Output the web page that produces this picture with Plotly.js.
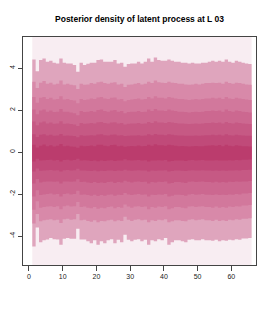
<!DOCTYPE html>
<html><head><meta charset="utf-8">
<script src="https://cdn.plot.ly/plotly-3.0.1.min.js"></script>
<style>html,body{margin:0;padding:0;background:#fff}#chart{width:275px;height:314px}</style>
</head><body><div id="chart"></div>
<script>
const titleText = 'Posterior density of latent process at L 03';
const cols = [1,2,3,4,5,6,7,8,9,10,11,12,13,14,15,16,17,18,19,20,21,22,23,24,25,26,27,28,29,30,31,32,33,34,35,36,37,38,39,40,41,42,43,44,45,46,47,48,49,50,51,52,53,54,55,56,57,58,59,60,61,62,63,64,65];
const xTickVals = [0,10,20,30,40,50,60];
const xTickText = ['0','10','20','30','40','50','60'];
const yTickVals = [-4,-2,0,2,4];
const yTickText = ['-4','-2','0','2','4'];
const bgLow = -5.4, bgHigh = 5.5;

const up1 = [4.41,3.85,4.38,4.45,4.30,4.35,4.25,4.22,4.45,4.25, 4.22,4.22,4.14,3.82,4.25,4.14,4.20,4.25,4.25,4.38, 4.41,4.30,4.30,4.30,4.38,4.22,4.25,4.06,4.19,4.22, 4.22,4.30,4.22,4.30,4.45,4.30,4.50,4.38,4.35,4.35, 4.41,4.35,4.30,4.30,4.25,4.25,4.22,4.25,4.22,4.22, 4.25,4.25,4.30,4.35,4.30,4.35,4.30,4.41,4.30,4.25, 4.35,4.30,4.25,4.22,4.19];
const lo1 = [-4.50,-3.60,-4.30,-4.20,-4.17,-4.10,-4.15,-4.17,-4.41,-4.13, -4.10,-4.13,-4.13,-3.65,-4.17,-4.17,-4.25,-4.34,-4.20,-4.41, -4.25,-4.34,-4.20,-4.15,-4.34,-4.18,-4.30,-3.94,-4.18,-4.25, -4.18,-4.15,-4.25,-4.18,-4.41,-4.20,-4.25,-4.15,-4.20,-4.10, -4.41,-4.30,-4.20,-4.20,-4.25,-4.30,-4.18,-4.15,-4.20,-4.20, -4.15,-4.20,-4.20,-4.22,-4.18,-4.25,-4.20,-4.22,-4.18,-4.20, -4.15,-4.18,-4.12,-4.12,-4.10];
const up2 = [3.35,3.05,3.30,3.38,3.25,3.30,3.22,3.25,3.40,3.22, 3.25,3.20,3.18,3.00,3.25,3.20,3.22,3.28,3.25,3.32, 3.35,3.28,3.25,3.30,3.32,3.22,3.25,3.10,3.20,3.22, 3.25,3.28,3.22,3.25,3.35,3.28,3.40,3.32,3.30,3.28, 3.35,3.30,3.28,3.25,3.25,3.22,3.20,3.22,3.25,3.22, 3.25,3.28,3.28,3.30,3.28,3.30,3.25,3.35,3.28,3.25, 3.30,3.28,3.25,3.22,3.20];
const lo2 = [-3.40,-2.95,-3.30,-3.25,-3.22,-3.20,-3.25,-3.22,-3.38,-3.20, -3.18,-3.22,-3.20,-2.95,-3.25,-3.22,-3.28,-3.32,-3.25,-3.35, -3.28,-3.30,-3.25,-3.22,-3.30,-3.25,-3.28,-3.08,-3.22,-3.28, -3.22,-3.20,-3.25,-3.22,-3.35,-3.25,-3.28,-3.22,-3.25,-3.20, -3.35,-3.30,-3.25,-3.25,-3.28,-3.30,-3.22,-3.20,-3.25,-3.22, -3.20,-3.25,-3.25,-3.28,-3.22,-3.28,-3.25,-3.28,-3.22,-3.25, -3.20,-3.22,-3.18,-3.18,-3.15];
const up3 = [2.62,2.35,2.58,2.62,2.52,2.58,2.50,2.52,2.65,2.50, 2.52,2.48,2.45,2.32,2.52,2.48,2.50,2.55,2.52,2.60, 2.62,2.55,2.52,2.58,2.60,2.50,2.52,2.42,2.48,2.50, 2.52,2.55,2.50,2.52,2.62,2.55,2.65,2.58,2.58,2.55, 2.62,2.58,2.55,2.52,2.52,2.50,2.48,2.50,2.52,2.50, 2.52,2.55,2.55,2.58,2.55,2.58,2.52,2.62,2.55,2.52, 2.58,2.55,2.52,2.50,2.48];
const lo3 = [-2.75,-2.35,-2.65,-2.62,-2.60,-2.58,-2.62,-2.58,-2.72,-2.58, -2.55,-2.60,-2.58,-2.38,-2.62,-2.60,-2.65,-2.68,-2.62,-2.70, -2.65,-2.68,-2.62,-2.60,-2.68,-2.62,-2.65,-2.50,-2.60,-2.65, -2.60,-2.58,-2.62,-2.60,-2.72,-2.62,-2.65,-2.60,-2.62,-2.58, -2.72,-2.68,-2.62,-2.62,-2.65,-2.68,-2.60,-2.58,-2.62,-2.60, -2.58,-2.62,-2.62,-2.65,-2.60,-2.65,-2.62,-2.65,-2.60,-2.62, -2.58,-2.60,-2.55,-2.55,-2.52];
const up4 = [2.02,1.80,1.98,2.02,1.92,1.98,1.90,1.92,2.05,1.92, 1.92,1.88,1.85,1.75,1.95,1.90,1.92,1.95,1.92,2.00, 2.02,1.95,1.92,1.98,2.00,1.92,1.95,1.85,1.90,1.92, 1.92,1.95,1.90,1.92,2.02,1.95,2.05,1.98,1.98,1.95, 2.02,1.98,1.95,1.92,1.92,1.90,1.88,1.90,1.92,1.90, 1.92,1.95,1.95,1.98,1.95,1.98,1.92,2.02,1.95,1.92, 1.98,1.95,1.92,1.90,1.88];
const lo4 = [-2.12,-1.82,-2.05,-2.02,-2.00,-1.98,-2.02,-2.00,-2.12,-2.00, -1.98,-2.02,-2.00,-1.85,-2.03,-2.02,-2.05,-2.08,-2.03,-2.10, -2.05,-2.08,-2.03,-2.02,-2.08,-2.03,-2.05,-1.95,-2.02,-2.05, -2.02,-2.00,-2.03,-2.02,-2.12,-2.03,-2.05,-2.02,-2.03,-2.00, -2.12,-2.08,-2.03,-2.03,-2.05,-2.08,-2.02,-2.00,-2.03,-2.02, -2.00,-2.03,-2.03,-2.05,-2.02,-2.05,-2.03,-2.05,-2.02,-2.03, -2.00,-2.02,-1.98,-1.98,-1.95];
const up5 = [1.45,1.28,1.40,1.45,1.36,1.40,1.35,1.36,1.46,1.35, 1.36,1.33,1.31,1.24,1.38,1.35,1.36,1.38,1.36,1.42, 1.43,1.38,1.36,1.40,1.42,1.36,1.38,1.31,1.35,1.36, 1.36,1.38,1.35,1.36,1.43,1.38,1.46,1.40,1.40,1.38, 1.43,1.40,1.38,1.36,1.36,1.35,1.33,1.35,1.36,1.35, 1.36,1.38,1.38,1.40,1.38,1.40,1.36,1.43,1.38,1.36, 1.40,1.38,1.36,1.35,1.33];
const lo5 = [-1.50,-1.28,-1.45,-1.42,-1.41,-1.40,-1.42,-1.41,-1.50,-1.41, -1.40,-1.42,-1.41,-1.30,-1.43,-1.42,-1.45,-1.47,-1.43,-1.48, -1.45,-1.47,-1.43,-1.42,-1.47,-1.43,-1.45,-1.37,-1.42,-1.45, -1.42,-1.41,-1.43,-1.42,-1.50,-1.43,-1.45,-1.42,-1.43,-1.41, -1.50,-1.47,-1.43,-1.43,-1.45,-1.47,-1.42,-1.41,-1.43,-1.42, -1.41,-1.43,-1.43,-1.45,-1.42,-1.45,-1.43,-1.45,-1.42,-1.43, -1.41,-1.42,-1.40,-1.40,-1.38];
const up6 = [0.84,0.72,0.82,0.85,0.79,0.82,0.78,0.79,0.86,0.78, 0.79,0.77,0.76,0.70,0.80,0.78,0.79,0.80,0.79,0.83, 0.84,0.80,0.79,0.82,0.83,0.79,0.80,0.76,0.78,0.79, 0.79,0.80,0.78,0.79,0.84,0.80,0.86,0.82,0.82,0.80, 0.84,0.82,0.80,0.79,0.79,0.78,0.77,0.78,0.79,0.78, 0.79,0.80,0.80,0.82,0.80,0.82,0.79,0.84,0.80,0.79, 0.82,0.80,0.79,0.78,0.77];
const lo6 = [-0.93,-0.78,-0.89,-0.88,-0.87,-0.86,-0.88,-0.87,-0.93,-0.87, -0.86,-0.88,-0.87,-0.80,-0.88,-0.88,-0.89,-0.91,-0.88,-0.92, -0.89,-0.91,-0.88,-0.88,-0.91,-0.88,-0.89,-0.84,-0.88,-0.89, -0.88,-0.87,-0.88,-0.88,-0.93,-0.88,-0.89,-0.88,-0.88,-0.87, -0.93,-0.91,-0.88,-0.88,-0.89,-0.91,-0.88,-0.87,-0.88,-0.88, -0.87,-0.88,-0.88,-0.89,-0.88,-0.89,-0.88,-0.89,-0.88,-0.88, -0.87,-0.88,-0.86,-0.86,-0.85];
const up7 = [0.34,0.22,0.30,0.36,0.28,0.32,0.26,0.30,0.38,0.28, 0.30,0.26,0.25,0.20,0.30,0.27,0.29,0.31,0.28,0.34, 0.35,0.30,0.28,0.33,0.34,0.28,0.30,0.25,0.27,0.29, 0.28,0.31,0.27,0.29,0.35,0.30,0.37,0.32,0.32,0.30, 0.35,0.32,0.30,0.28,0.29,0.27,0.26,0.28,0.29,0.27, 0.28,0.30,0.31,0.32,0.30,0.33,0.28,0.35,0.30,0.28, 0.32,0.30,0.28,0.27,0.26];
const lo7 = [-0.45,-0.32,-0.40,-0.39,-0.38,-0.37,-0.40,-0.38,-0.45,-0.38, -0.37,-0.40,-0.38,-0.32,-0.40,-0.39,-0.41,-0.43,-0.40,-0.44, -0.41,-0.43,-0.40,-0.39,-0.43,-0.40,-0.41,-0.35,-0.39,-0.41, -0.39,-0.38,-0.40,-0.39,-0.45,-0.40,-0.41,-0.39,-0.40,-0.38, -0.45,-0.43,-0.40,-0.40,-0.41,-0.43,-0.39,-0.38,-0.40,-0.39, -0.38,-0.40,-0.40,-0.41,-0.39,-0.41,-0.40,-0.41,-0.39,-0.40, -0.38,-0.39,-0.37,-0.37,-0.36];

const bgColor = '#f8edf2';
const bandColors = ['#dfa5bd','#d889a9','#d2789c','#cc6890','#c65984','#c04a79','#bb3c6d'];
const bands = [[lo1,up1],[lo2,up2],[lo3,up3],[lo4,up4],[lo5,up5],[lo6,up6],[lo7,up7]];

// each column j covers [j, j+1]; step lines ('hv') need a closing point at the right edge
const xs = cols.concat([cols[cols.length-1] + 1]);
function stepVals(arr){ return arr.concat([arr[arr.length-1]]); }
const traces = [];
function addBand(lo, hi, color){
  traces.push({type:'scatter', mode:'lines', x: xs, y: stepVals(lo), line:{shape:'hv', width:0, color:color},
    hoverinfo:'skip', showlegend:false});
  traces.push({type:'scatter', mode:'lines', x: xs, y: stepVals(hi), line:{shape:'hv', width:0, color:color},
    fill:'tonexty', fillcolor:color, hoverinfo:'skip', showlegend:false});
}
addBand(cols.map(()=>bgLow), cols.map(()=>bgHigh), bgColor);
bands.forEach((b,k)=>addBand(b[0], b[1], bandColors[k]));

const axisCommon = {showgrid:false, zeroline:false, showline:true, mirror:true,
  linecolor:'#444', linewidth:1, ticks:'outside', tickcolor:'#444', tickwidth:1,
  tickfont:{family:'Liberation Sans, Arial, sans-serif', size:7, color:'#222'}};
const layout = {
  width:275, height:314, margin:{l:23, r:19, t:37, b:49},
  paper_bgcolor:'#fff', plot_bgcolor:'#fff', showlegend:false,
  title:{text:titleText, font:{family:'Liberation Sans, Arial, sans-serif', size:8.5, color:'#000', weight:'bold'},
    x:0.5, xref:'paper', xanchor:'center', y:1-19/314, yref:'container', yanchor:'middle'},
  xaxis:Object.assign({}, axisCommon, {range:[-1.75,67.3], tickvals:xTickVals, ticktext:xTickText, ticklen:5}),
  yaxis:Object.assign({}, axisCommon, {range:[-5.38,5.476], tickvals:yTickVals, ticktext:yTickText, ticklen:4, tickangle:-90})
};
Plotly.newPlot('chart', traces, layout, {staticPlot:true, displayModeBar:false});
</script></body></html>
